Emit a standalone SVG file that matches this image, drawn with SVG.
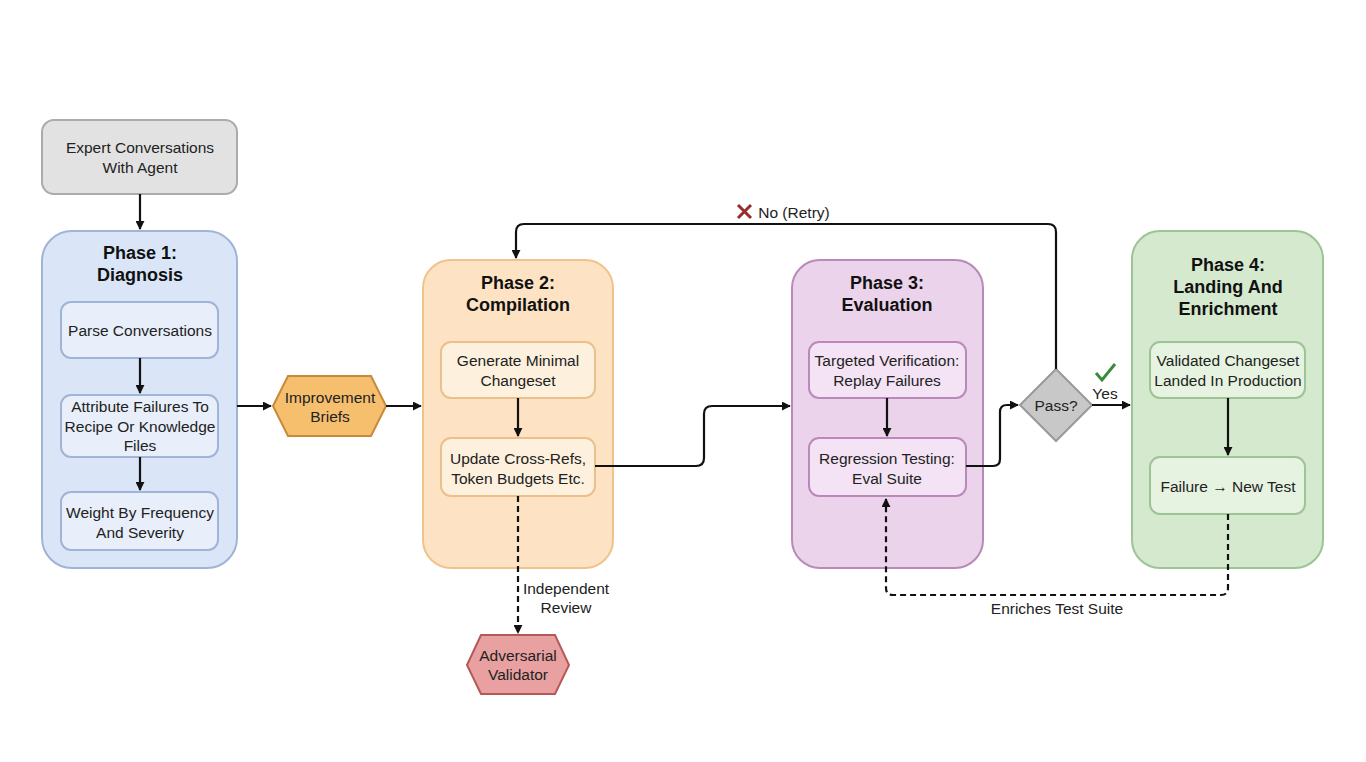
<svg xmlns="http://www.w3.org/2000/svg" width="1366" height="762" viewBox="0 0 1366 762">
<defs>
<marker id="ah" viewBox="0 0 10 10" refX="9" refY="5" markerWidth="9" markerHeight="9" orient="auto-start-reverse" markerUnits="userSpaceOnUse"><path d="M0,0 L10,5 L0,10 z" fill="#111"/></marker>
<style>
text{font-family:"Liberation Sans",Arial,sans-serif;fill:#222;text-anchor:middle}
.t{font-size:15.5px}
.h{font-size:18px;font-weight:bold;fill:#111}
.ln{fill:none;stroke:#111;stroke-width:2.2}
.d{stroke-dasharray:6,4}
.in1{fill:#e8effa;stroke:#9fb4d6;stroke-width:2}
.in2{fill:#fdf0dd;stroke:#ebc08c;stroke-width:2}
.in3{fill:#f4e3f4;stroke:#b98ab9;stroke-width:2}
.in4{fill:#e6f3e1;stroke:#9cc494;stroke-width:2}
</style>
</defs>
<rect width="1366" height="762" fill="#fff"/>
<g id="expert"><rect x="42" y="120" width="195" height="74" rx="12" fill="#e2e2e2" stroke="#ababab" stroke-width="2"/><text class="t" x="140" y="153">Expert Conversations</text><text class="t" x="140" y="173">With Agent</text></g>
<g id="phase1"><rect x="42" y="231" width="195" height="337" rx="30" fill="#dae6f7" stroke="#9fb4d6" stroke-width="2"/><text class="h" x="140" y="259">Phase 1:</text><text class="h" x="140" y="281">Diagnosis</text></g>
<g id="parse"><rect class="in1" x="61" y="302" width="157" height="56" rx="10"/><text class="t" x="140" y="336">Parse Conversations</text></g>
<g id="attribute"><rect class="in1" x="61" y="395" width="157" height="62" rx="10"/><text class="t" x="140" y="412">Attribute Failures To</text><text class="t" x="140" y="432">Recipe Or Knowledge</text><text class="t" x="140" y="451">Files</text></g>
<g id="weight"><rect class="in1" x="61" y="492" width="157" height="58" rx="10"/><text class="t" x="140" y="518">Weight By Frequency</text><text class="t" x="140" y="538">And Severity</text></g>
<g id="briefs"><polygon points="273,406 288,376 371,376 386,406 371,436 288,436" fill="#f6bf6e" stroke="#c88a3a" stroke-width="2"/><text class="t" x="330" y="403">Improvement</text><text class="t" x="330" y="422">Briefs</text></g>
<g id="phase2"><rect x="423" y="260" width="190" height="308" rx="28" fill="#fde3c3" stroke="#f0c38c" stroke-width="2"/><text class="h" x="518" y="289">Phase 2:</text><text class="h" x="518" y="311">Compilation</text></g>
<g id="generate"><rect class="in2" x="441" y="342" width="154" height="56" rx="10"/><text class="t" x="518" y="366">Generate Minimal</text><text class="t" x="518" y="386">Changeset</text></g>
<g id="update"><rect class="in2" x="441" y="438" width="154" height="58" rx="10"/><text class="t" x="518" y="464">Update Cross-Refs,</text><text class="t" x="518" y="484">Token Budgets Etc.</text></g>
<g id="adversarial"><polygon points="467,665 481,635 555,635 569,665 555,694 481,694" fill="#e8a0a0" stroke="#b75858" stroke-width="2"/><text class="t" x="518" y="661">Adversarial</text><text class="t" x="518" y="680">Validator</text></g>
<g id="phase3"><rect x="792" y="260" width="191" height="308" rx="28" fill="#ecd3ec" stroke="#b98ab9" stroke-width="2"/><text class="h" x="887" y="289">Phase 3:</text><text class="h" x="887" y="311">Evaluation</text></g>
<g id="targeted"><rect class="in3" x="809" y="342" width="157" height="56" rx="10"/><text class="t" x="887" y="366">Targeted Verification:</text><text class="t" x="887" y="386">Replay Failures</text></g>
<g id="regression"><rect class="in3" x="809" y="438" width="157" height="58" rx="10"/><text class="t" x="887" y="464">Regression Testing:</text><text class="t" x="887" y="484">Eval Suite</text></g>
<g id="pass"><polygon points="1056,369 1092,405 1056,441 1020,405" fill="#c8c8c8" stroke="#999" stroke-width="2"/><text class="t" x="1056" y="411">Pass?</text></g>
<g id="phase4"><rect x="1132" y="231" width="191" height="337" rx="28" fill="#d5e9cf" stroke="#9cc494" stroke-width="2"/><text class="h" x="1228" y="271">Phase 4:</text><text class="h" x="1228" y="293">Landing And</text><text class="h" x="1228" y="315">Enrichment</text></g>
<g id="validated"><rect class="in4" x="1150" y="342" width="155" height="56" rx="10"/><text class="t" x="1228" y="366">Validated Changeset</text><text class="t" x="1228" y="386">Landed In Production</text></g>
<g id="failure"><rect class="in4" x="1150" y="457" width="155" height="57" rx="10"/><text class="t" x="1228" y="492">Failure → New Test</text></g>
<g id="connectors">
<path class="ln" d="M140,194 V229" marker-end="url(#ah)"/>
<path class="ln" d="M140,358 V393" marker-end="url(#ah)"/>
<path class="ln" d="M140,457 V490" marker-end="url(#ah)"/>
<path class="ln" d="M237,406 H271" marker-end="url(#ah)"/>
<path class="ln" d="M386,406 H421" marker-end="url(#ah)"/>
<path class="ln" d="M518,398 V436" marker-end="url(#ah)"/>
<path class="ln" d="M595,466 H696 Q704,466 704,458 V414 Q704,406 712,406 H790" marker-end="url(#ah)"/>
<path class="ln" d="M887,398 V436" marker-end="url(#ah)"/>
<path class="ln" d="M966,466 H993 Q1000,466 1000,459 V412 Q1000,405 1007,405 H1018" marker-end="url(#ah)"/>
<path class="ln" d="M1092,405 H1130" marker-end="url(#ah)"/>
<path class="ln" d="M1056,369 V232 Q1056,224 1048,224 H524 Q516,224 516,232 V258" marker-end="url(#ah)"/>
<path class="ln" d="M1228,398 V455" marker-end="url(#ah)"/>
<path class="ln d" d="M518,496 V633" marker-end="url(#ah)"/>
<path class="ln d" d="M1228,514 V588 Q1228,595 1221,595 H893 Q886,595 886,588 V499" marker-end="url(#ah)"/>
<path d="M738,205 L751,218 M751,205 L738,218" stroke="#9b2a2a" stroke-width="3"/>
<text class="t" x="794" y="218">No (Retry)</text>
<path d="M1096,373 L1102,380 L1115,364" fill="none" stroke="#3d8a3d" stroke-width="3"/>
<text class="t" x="1105" y="399">Yes</text>
<text class="t" x="566" y="594">Independent</text>
<text class="t" x="566" y="613">Review</text>
<text class="t" x="1057" y="614">Enriches Test Suite</text>
</g>
</svg>
